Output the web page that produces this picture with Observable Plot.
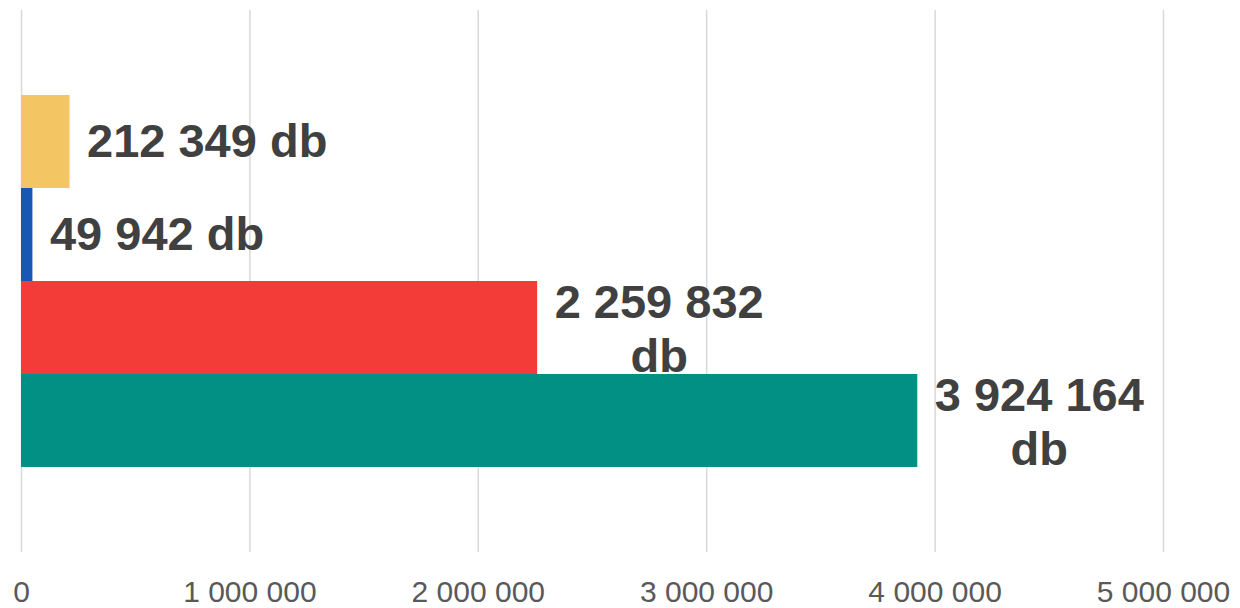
<!DOCTYPE html>
<html>
<head>
<meta charset="utf-8">
<script src="https://cdn.jsdelivr.net/npm/d3@7"></script>
<script src="https://cdn.jsdelivr.net/npm/@observablehq/plot@0.6"></script>
<style>
  html, body { margin: 0; padding: 0; background: #fff; }
  #chart svg { display: block; }
</style>
</head>
<body>
<div id="chart"></div>
<script>
const categories = ["Kategória 1", "Kategória 2", "Kategória 3", "Kategória 4"];
const values = [212349, 49942, 2259832, 3924164];
const colors = ["#F4C563", "#1957B4", "#F33B37", "#028F84"];
const labels = ["212 349 db", "49 942 db", "2 259 832\ndb", "3 924 164\ndb"];
const xTicks = [0, 1000000, 2000000, 3000000, 4000000, 5000000];
const xTickLabels = ["0", "1 000 000", "2 000 000", "3 000 000", "4 000 000", "5 000 000"];

const data = categories.map((c, i) => ({category: c, value: values[i], color: colors[i], label: labels[i]}));

const fam = "'Liberation Sans', Arial, sans-serif";
const labelSize = 47;
const ctx = document.createElement("canvas").getContext("2d");
ctx.font = `bold ${labelSize}px ${fam}`;
const single = data.filter(d => !d.label.includes("\n"));
const multi = data.filter(d => d.label.includes("\n"));
const halfW = multi.length ? d3.max(multi, d => ctx.measureText(d.label.split("\n")[0]).width) / 2 : 0;
const fmt = (d) => xTickLabels[xTicks.indexOf(d)];

const chart = Plot.plot({
  width: 1240,
  height: 608,
  marginLeft: 21,
  marginRight: 77,
  marginTop: 10,
  marginBottom: 56,
  style: {fontFamily: fam, background: "#fff"},
  x: {domain: [0, 5000000], ticks: xTicks, tickFormat: fmt, label: null},
  y: {domain: categories, paddingInner: 0, paddingOuter: 0.9, axis: null},
  marks: [
    Plot.ruleX(xTicks, {stroke: "#d9d9d9", strokeWidth: 1.5}),
    Plot.axisX({ticks: xTicks, tickFormat: fmt, label: null, tickSize: 0, tickPadding: 28, fontSize: 30, fill: "#595959", fontFamily: fam}),
    Plot.barX(data, {y: "category", x: "value", fill: "color"}),
    Plot.text(single, {y: "category", x: "value", text: "label", textAnchor: "start", dx: 17, fontSize: labelSize, fontWeight: "bold", fill: "#404040", fontFamily: fam}),
    Plot.text(multi, {y: "category", x: "value", text: "label", textAnchor: "middle", dx: 17 + halfW, lineHeight: 1.13, fontSize: labelSize, fontWeight: "bold", fill: "#404040", fontFamily: fam})
  ]
});
document.getElementById("chart").appendChild(chart);
</script>
</body>
</html>
